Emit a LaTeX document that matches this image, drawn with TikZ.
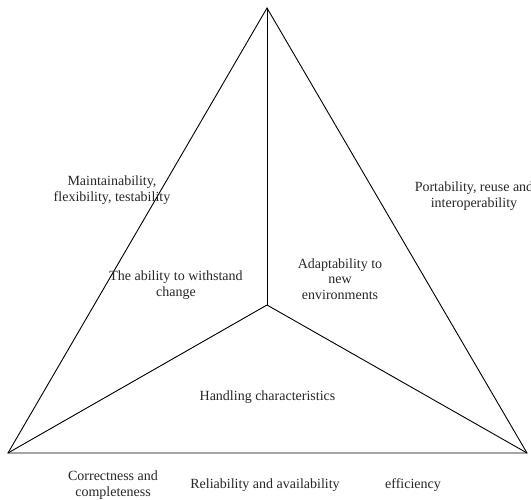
\documentclass[tikz,border=0pt]{standalone}
\usepackage{fontspec}
\setmainfont{Liberation Serif}
\begin{document}
\begin{tikzpicture}[x=1pt,y=-1pt,
  edge/.style={draw=black,line width=0.9pt,line join=miter},
  lbl/.style={font=\fontsize{14}{15.5}\selectfont,align=center,inner sep=0pt,text=black!85}]
\useasboundingbox (0,0) rectangle (531,500);
\coordinate (T) at (267,8);
\coordinate (L) at (8,453);
\coordinate (R) at (527,453);
\coordinate (C) at (267,305);
\draw[edge] (T) -- (L) -- (R) -- cycle;
\draw[edge] (C) -- (T);
\draw[edge] (C) -- (L);
\draw[edge] (C) -- (R);
\node[lbl] (m) at (112,190) {Maintainability,\\flexibility, testability};
\node[lbl] (p) at (474,196) {Portability, reuse and\\interoperability};
\node[lbl] (w) at (176,285) {The ability to withstand\\change};
\node[lbl] (a) at (340,279) {Adaptability to\\new\\environments};
\node[lbl] (h) at (267.5,397) {Handling characteristics};
\node[lbl] (c) at (113,485) {Correctness and\\completeness};
\node[lbl] (r) at (265,485) {Reliability and availability};
\node[lbl] (e) at (413,485) {efficiency};
\end{tikzpicture}
\end{document}
